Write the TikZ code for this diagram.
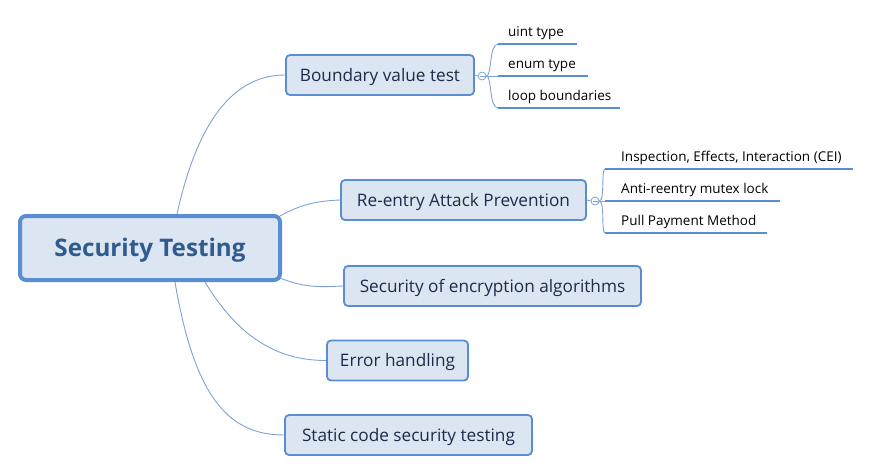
\documentclass[tikz,border=0pt]{standalone}
\usepackage{fontspec}
\setmainfont{Open Sans}
\usetikzlibrary{calc}
\definecolor{bordc}{HTML}{5B8DD3}
\definecolor{fillc}{HTML}{DCE6F2}
\definecolor{linec}{HTML}{7BA2D9}
\definecolor{rootc}{HTML}{2F5B8F}
\definecolor{txtc}{HTML}{1E2B48}
\tikzset{
  x=1pt,y=-1pt,
  rootbox/.style={draw=bordc,fill=fillc,line width=4pt,rounded corners=6pt,
    minimum width=260pt,minimum height=64pt,inner sep=0pt,
    text height=22pt,text depth=5pt,
    font=\fontsize{24.2}{28}\selectfont\bfseries,text=rootc},
  topic/.style={draw=bordc,fill=fillc,line width=1.8pt,rounded corners=4pt,
    minimum height=40pt,inner sep=0pt,text height=16pt,text depth=4pt,
    font=\fontsize{17.2}{20}\selectfont,text=txtc},
  conn/.style={draw=linec,line width=0.9pt},
  collapse/.style={circle,draw=linec,fill=white,line width=0.8pt,minimum size=8pt,inner sep=0pt},
  subtext/.style={anchor=base west,inner sep=0pt,font=\fontsize{13.5}{16}\selectfont,text=black},
  uline/.style={draw=bordc,line width=2.5pt},
}
\begin{document}
\begin{tikzpicture}
\useasboundingbox (0,0) rectangle (871,472);
% main topics
\node[rootbox] (root) at (150,248) {Security Testing};
\node[topic,minimum width=188pt] (bvt) at (380,75) {Boundary value test};
\node[topic,minimum width=245pt] (rap) at (463.5,200) {Re-entry Attack Prevention};
\node[topic,minimum width=297pt] (sec) at (492.5,286) {Security of encryption algorithms};
\node[topic,minimum width=141pt] (err) at (397.5,360.5) {Error handling};
\node[topic,minimum width=247pt] (sta) at (408.5,435) {Static code security testing};
% connectors from root
\draw[conn] ($(root.north west)+(159,0)$) .. controls (200,110) and (240,75) .. (bvt.west);
\draw[conn] ($(root.north east)+(-2,2)$) .. controls (300,205) and (315,201) .. (rap.west);
\draw[conn] ($(root.south east)+(-2,-4)$) .. controls (305,288) and (320,287) .. (sec.west);
\draw[conn] ($(root.south west)+(187,0)$) .. controls (240,340) and (280,360.5) .. (err.west);
\draw[conn] ($(root.south west)+(157,0)$) .. controls (195,400) and (230,435) .. (sta.west);
% boundary value sub-topics
\node[collapse] (c1) at (482,76) {};
\draw[linec,line width=0.7pt] (479.5,76) -- (484.5,76);
\draw[conn] (bvt.east) -- (c1.west);
\coordinate (b1) at (498,44);
\coordinate (b2) at (498,76);
\coordinate (b3) at (498,108);
\draw[conn] (c1.east) .. controls (492,76) and (489,44) .. (b1);
\draw[conn] (c1.east) -- (b2);
\draw[conn] (c1.east) .. controls (492,76) and (489,108) .. (b3);
\coordinate (b1e) at (577,44);
\coordinate (b2e) at (588,76);
\coordinate (b3e) at (620,108);
\draw[uline] (b1) -- (b1e);
\draw[uline] (b2) -- (b2e);
\draw[uline] (b3) -- (b3e);
\node[subtext] (t1) at (508,36) {uint type};
\node[subtext] (t2) at (508,68) {enum type};
\node[subtext] (t3) at (508,100) {loop boundaries};
% re-entry sub-topics
\node[collapse] (c2) at (595,201) {};
\draw[linec,line width=0.7pt] (592.5,201) -- (597.5,201);
\draw[conn] (rap.east) -- (c2.west);
\coordinate (r1) at (605,169);
\coordinate (r2) at (605,201);
\coordinate (r3) at (605,233);
\draw[conn] (c2.east) .. controls (605,201) and (601,169) .. (r1);
\draw[conn] (c2.east) -- (r2);
\draw[conn] (c2.east) .. controls (605,201) and (601,233) .. (r3);
\coordinate (r1e) at (853,169);
\coordinate (r2e) at (780,201);
\coordinate (r3e) at (767,233);
\draw[uline] (r1) -- (r1e);
\draw[uline] (r2) -- (r2e);
\draw[uline] (r3) -- (r3e);
\node[subtext] (u1) at (621,161) {Inspection, Effects, Interaction (CEI)};
\node[subtext] (u2) at (621,193) {Anti-reentry mutex lock};
\node[subtext] (u3) at (621,225) {Pull Payment Method};
\end{tikzpicture}
\end{document}
